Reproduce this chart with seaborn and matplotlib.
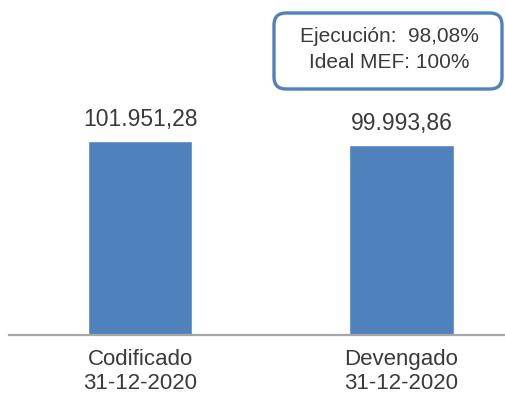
import matplotlib
matplotlib.use("Agg")
import matplotlib.pyplot as plt
from matplotlib.patches import FancyBboxPatch
import pandas as pd
import seaborn as sns

# data
categories = ["Codificado\n31-12-2020", "Devengado\n31-12-2020"]
values = [101951.28, 99993.86]
value_labels = ["101.951,28", "99.993,86"]
box_lines = ["Ejecución:  98,08%", "Ideal MEF: 100%"]

bar_color = "#4F81BD"
text_color = "#3A3A3A"

sns.set_style("white")
plt.rcParams["font.family"] = ["Liberation Sans", "DejaVu Sans"]

df = pd.DataFrame({"categoria": categories, "monto": values})

fig = plt.figure(figsize=(5.05, 4.0), dpi=100)
ax = fig.add_axes([0.018, 0.1625, 0.982, 0.8375])

sns.barplot(data=df, x="categoria", y="monto", color=bar_color,
            width=0.398, saturation=1, ax=ax)

ax.set_xlim(-0.501, 1.396)
ax.set_ylim(0, 176000)

# value labels above bars
for i, (v, lab) in enumerate(zip(values, value_labels)):
    ax.annotate(lab, (i, v), xytext=(0, 7), textcoords="offset points",
                ha="center", va="bottom", fontsize=16.5, color=text_color)

ax.set_xlabel("")
ax.set_ylabel("")
ax.set_yticks([])
ax.tick_params(axis="x", length=0, labelsize=16, labelcolor=text_color, pad=10)
for lab in ax.get_xticklabels():
    lab.set_linespacing(1.2)

sns.despine(ax=ax, left=True)
ax.spines["bottom"].set_color("#A6A6A6")
ax.spines["bottom"].set_linewidth(1.6)

# rounded info box (inches from bottom-left)
box = FancyBboxPatch((2.74, 3.11), 2.28, 0.76,
                     boxstyle="round,pad=0,rounding_size=0.12",
                     transform=fig.dpi_scale_trans,
                     facecolor="white", edgecolor=bar_color, linewidth=2.4,
                     clip_on=False)
fig.patches.append(box)
fig.text(389 / 505, 1 - 37 / 400, box_lines[0], ha="center", va="center",
         fontsize=15, color=text_color)
fig.text(389 / 505, 1 - 62 / 400, box_lines[1], ha="center", va="center",
         fontsize=15, color=text_color)

fig.savefig("out.png", dpi=100)
